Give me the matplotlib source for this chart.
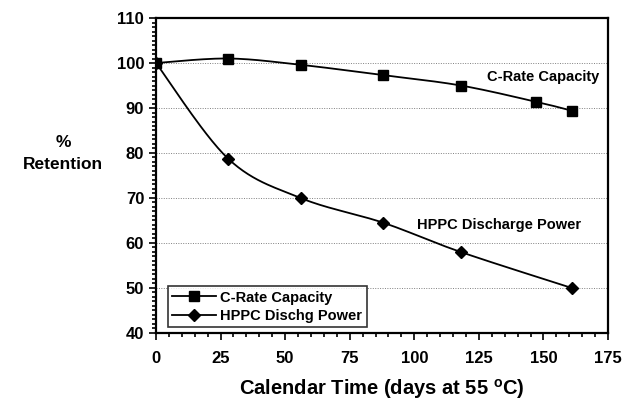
import numpy as np
import matplotlib.pyplot as plt
from matplotlib.ticker import MultipleLocator

plt.rcParams['font.family'] = ['Liberation Sans', 'DejaVu Sans']
plt.rcParams['font.weight'] = 'bold'
plt.rcParams['mathtext.fontset'] = 'custom'
plt.rcParams['mathtext.rm'] = 'Liberation Sans:bold'
plt.rcParams['mathtext.bf'] = 'Liberation Sans:bold'

# retention data (days at 55 C)
days_cap = [0, 28, 56, 88, 118, 147, 161]
cap_retention = [100, 101, 99.6, 97.3, 95, 91.4, 89.4]
days_pwr = [0, 28, 56, 88, 118, 161]
pwr_retention = [100, 78.7, 70, 64.5, 58, 50]


def smooth(x, y, n=30):
    # Catmull-Rom curve through the points, like a smoothed line in a spreadsheet
    p = np.column_stack([x, y]).astype(float)
    p = np.vstack([p[0], p, p[-1]])
    out = []
    t = np.linspace(0, 1, n)[:, None]
    for i in range(1, len(p) - 2):
        p0, p1, p2, p3 = p[i - 1], p[i], p[i + 1], p[i + 2]
        m1 = (p2 - p0) / 2
        m2 = (p3 - p1) / 2
        h00 = 2 * t**3 - 3 * t**2 + 1
        h10 = t**3 - 2 * t**2 + t
        h01 = -2 * t**3 + 3 * t**2
        h11 = t**3 - t**2
        out.append(h00 * p1 + h10 * m1 + h01 * p2 + h11 * m2)
    c = np.vstack(out)
    return c[:, 0], c[:, 1]


fig = plt.figure(figsize=(6.25, 4.01), dpi=100)
ax = fig.add_axes([0.2496, 0.1696, 0.7232, 0.7855])

sx, sy = smooth(days_cap, cap_retention)
ax.plot(sx, sy, color='black', lw=1.3)
ax.plot(days_cap, cap_retention, ls='none', marker='s', ms=7, color='black')
ax.plot([], [], color='black', lw=1.3, marker='s', ms=7, label='C-Rate Capacity')

sx, sy = smooth(days_pwr, pwr_retention)
ax.plot(sx, sy, color='black', lw=1.3)
ax.plot(days_pwr, pwr_retention, ls='none', marker='D', ms=6, color='black')
ax.plot([], [], color='black', lw=1.3, marker='D', ms=6, label='HPPC Dischg Power')

ax.set_xlim(0, 175)
ax.set_ylim(40, 110)
ax.xaxis.set_major_locator(MultipleLocator(25))
ax.xaxis.set_minor_locator(MultipleLocator(5))
ax.yaxis.set_major_locator(MultipleLocator(10))
ax.yaxis.set_minor_locator(MultipleLocator(1))
ax.tick_params(which='both', direction='out', width=1.2, labelsize=12)
ax.tick_params(which='major', length=5)
ax.tick_params(which='minor', length=3)
ax.tick_params(axis='x', pad=8)
for lbl in ax.get_xticklabels() + ax.get_yticklabels():
    lbl.set_fontweight('bold')
for s in ax.spines.values():
    s.set_linewidth(1.6)
ax.grid(axis='y', which='major', ls=(0, (1, 1.5)), color='gray', lw=0.7)

ax.text(150, 96.9, 'C-Rate Capacity', fontsize=10.5, fontweight='bold',
        ha='center', va='center')
ax.text(133, 64, 'HPPC Discharge Power', fontsize=10.5, fontweight='bold',
        ha='center', va='center')

ax.set_xlabel(r'Calendar Time (days at 55 $^{\mathrm{o}}$C)', fontsize=14.5,
              fontweight='bold', labelpad=8)
fig.text(0.101, 0.618, '%\nRetention', fontsize=12.5, fontweight='bold',
         ha='center', va='center', linespacing=1.6)

leg = ax.legend(loc='lower left', bbox_to_anchor=(0.026, 0.018),
                prop={'size': 10.5, 'weight': 'bold'},
                frameon=True, fancybox=False, edgecolor='black',
                borderaxespad=0, handlelength=3, borderpad=0.3,
                labelspacing=0.3, handletextpad=0.3)
leg.get_frame().set_linewidth(1.2)

fig.savefig('out.png', dpi=100)
